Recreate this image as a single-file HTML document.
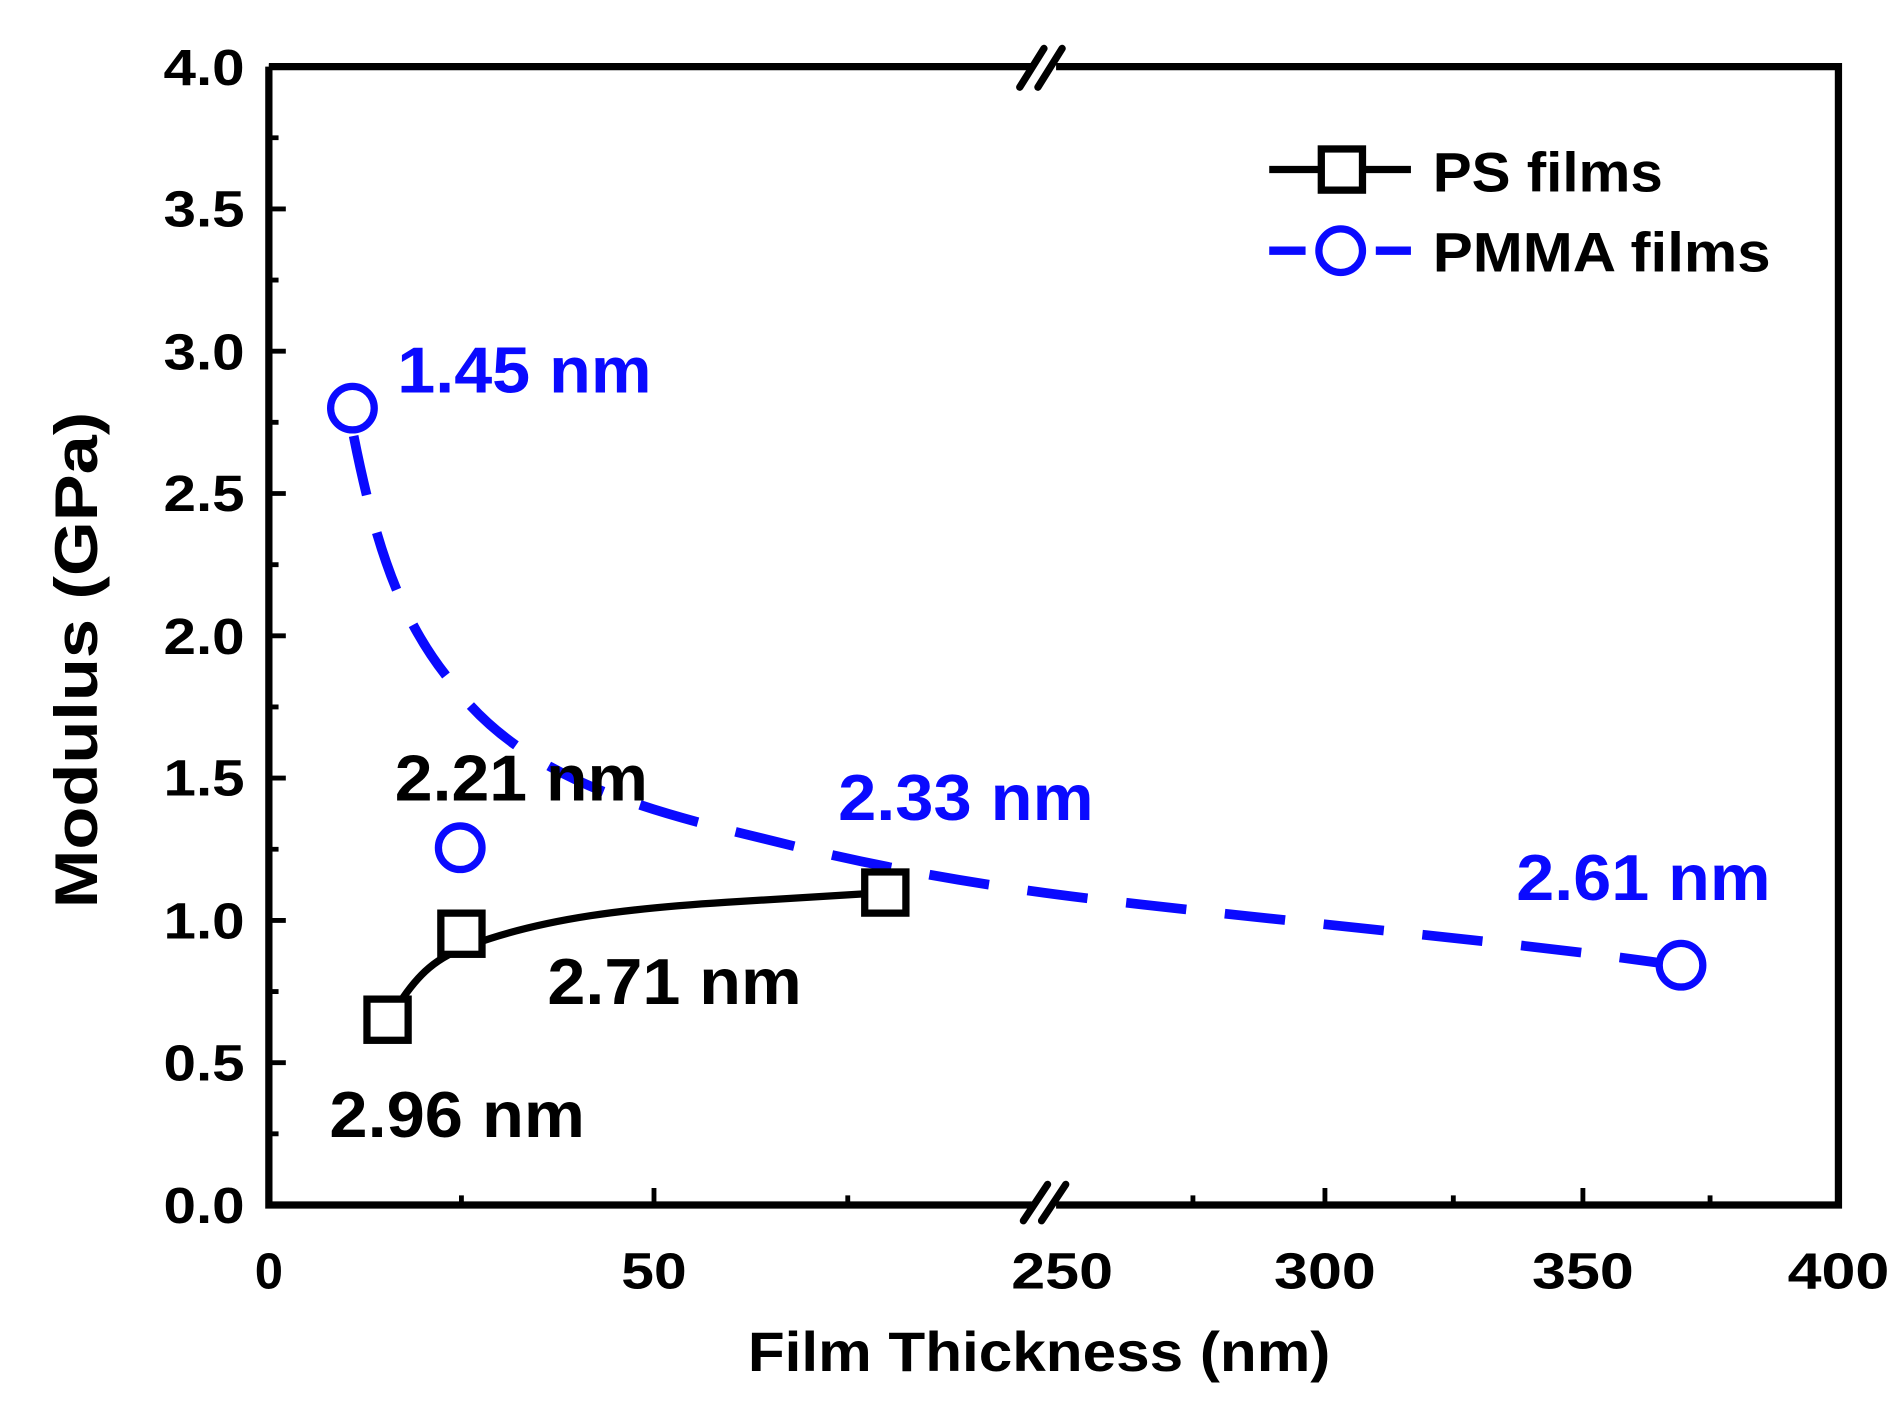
<!DOCTYPE html>
<html><head><meta charset="utf-8"><style>html,body{margin:0;padding:0;background:#fff}svg{display:block}</style></head>
<body>
<svg width="1899" height="1423" viewBox="0 0 1568 1175" preserveAspectRatio="none" xmlns="http://www.w3.org/2000/svg" font-family="Liberation Sans, Arial, sans-serif" font-weight="bold">
<rect width="1568" height="1175" fill="#fff"/>
<g stroke="#000" stroke-width="6" fill="none">
<path d="M222,55 H852 M872,55 H1518 V995 H872 M852,995 H222 V55"/>
</g>
<g stroke="#000" stroke-width="6" stroke-linecap="round">
<path d="M842,72 L862,40 M857,72 L877,40"/>
<path d="M845,1008 L865,978 M860,1008 L880,978"/>
</g>
<g stroke="#000" stroke-width="4">
<path d="M222,55h14M222,172.5h14M222,290h14M222,407.5h14M222,525h14M222,642.5h14M222,760h14M222,877.5h14"/>
<path d="M222,113.75h8M222,231.25h8M222,348.75h8M222,466.25h8M222,583.75h8M222,701.25h8M222,818.75h8M222,936.25h8"/>
<path d="M540,995v-14M381,995v-8M700,995v-8M1094,995v-14M1307,995v-14M985,995v-8M1200,995v-8M1412,995v-8"/>
</g>
<g font-size="42" text-anchor="end" fill="#000">
<text x="202" y="70" textLength="67" lengthAdjust="spacingAndGlyphs">4.0</text>
<text x="202" y="187" textLength="67" lengthAdjust="spacingAndGlyphs">3.5</text>
<text x="202" y="305" textLength="67" lengthAdjust="spacingAndGlyphs">3.0</text>
<text x="202" y="422" textLength="67" lengthAdjust="spacingAndGlyphs">2.5</text>
<text x="202" y="540" textLength="67" lengthAdjust="spacingAndGlyphs">2.0</text>
<text x="202" y="657" textLength="67" lengthAdjust="spacingAndGlyphs">1.5</text>
<text x="202" y="775" textLength="67" lengthAdjust="spacingAndGlyphs">1.0</text>
<text x="202" y="892" textLength="67" lengthAdjust="spacingAndGlyphs">0.5</text>
<text x="202" y="1010" textLength="67" lengthAdjust="spacingAndGlyphs">0.0</text>
</g>
<g font-size="42" text-anchor="middle" fill="#000">
<text x="222" y="1064">0</text>
<text x="540" y="1064" textLength="54" lengthAdjust="spacingAndGlyphs">50</text>
<text x="877" y="1064" textLength="84" lengthAdjust="spacingAndGlyphs">250</text>
<text x="1094" y="1064" textLength="84" lengthAdjust="spacingAndGlyphs">300</text>
<text x="1307" y="1064" textLength="84" lengthAdjust="spacingAndGlyphs">350</text>
<text x="1518" y="1064" textLength="84" lengthAdjust="spacingAndGlyphs">400</text>
</g>
<text x="858" y="1132" font-size="46" text-anchor="middle" textLength="481" lengthAdjust="spacingAndGlyphs">Film Thickness (nm)</text>
<text transform="translate(80,545) rotate(-90)" font-size="50" text-anchor="middle" textLength="410" lengthAdjust="spacingAndGlyphs">Modulus (GPa)</text>
<path d="M292,360 C310,450 330,510 370,560 C420,630 500,660 600,685 C680,705 760,725 900,742 C1100,765 1250,778 1370,795" fill="none" stroke="#0a0aff" stroke-width="8" stroke-dasharray="50,32"/>
<path d="M330,828 C345,805 360,790 390,780 C450,758 520,750 600,745 C660,741 700,739 715,738" fill="none" stroke="#000" stroke-width="6"/>
<g fill="#fff" stroke="#000" stroke-width="6">
<rect x="303" y="825" width="34" height="34"/><rect x="364" y="754" width="34" height="34"/><rect x="714" y="720" width="34" height="34"/>
</g>
<g fill="#fff" stroke="#0a0aff" stroke-width="6">
<circle cx="291" cy="337" r="18"/><circle cx="380" cy="700" r="18"/><circle cx="1388" cy="797" r="18"/>
</g>
<path d="M1048,140 H1165" stroke="#000" stroke-width="6"/>
<rect x="1091" y="123" width="34" height="34" fill="#fff" stroke="#000" stroke-width="6"/>
<path d="M1048,207 H1165" stroke="#0a0aff" stroke-width="7" stroke-dasharray="30,14"/>
<circle cx="1107" cy="207" r="18" fill="#fff" stroke="#0a0aff" stroke-width="6"/>
<text x="1183" y="158" font-size="46" fill="#000" textLength="190" lengthAdjust="spacingAndGlyphs">PS films</text>
<text x="1183" y="224" font-size="46" fill="#000" textLength="279" lengthAdjust="spacingAndGlyphs">PMMA films</text>
<g font-size="54">
<text x="328" y="324" fill="#0a0aff" textLength="210" lengthAdjust="spacingAndGlyphs">1.45 nm</text>
<text x="326" y="661" fill="#000" textLength="209" lengthAdjust="spacingAndGlyphs">2.21 nm</text>
<text x="692" y="677" fill="#0a0aff" textLength="211" lengthAdjust="spacingAndGlyphs">2.33 nm</text>
<text x="1252" y="743" fill="#0a0aff" textLength="210" lengthAdjust="spacingAndGlyphs">2.61 nm</text>
<text x="452" y="829" fill="#000" textLength="210" lengthAdjust="spacingAndGlyphs">2.71 nm</text>
<text x="272" y="939" fill="#000" textLength="211" lengthAdjust="spacingAndGlyphs">2.96 nm</text>
</g>
</svg>
</body></html>
